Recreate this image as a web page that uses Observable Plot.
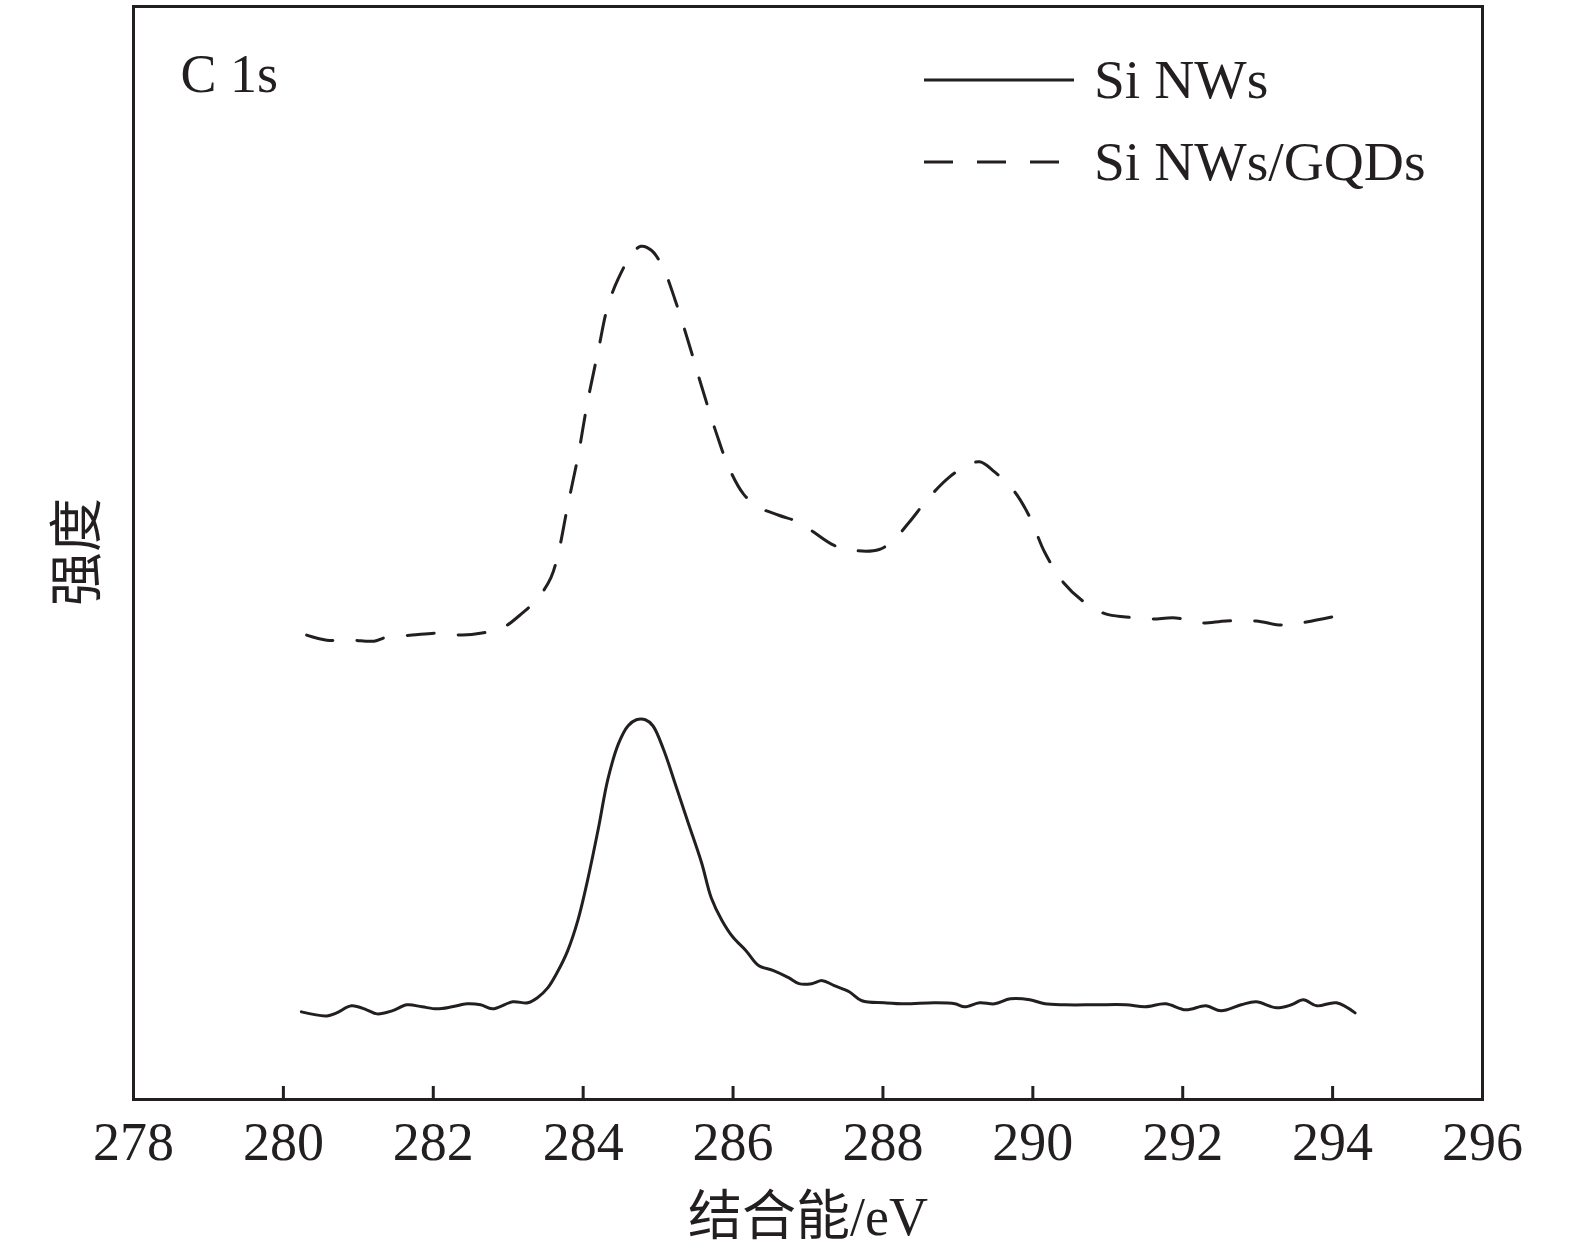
<!DOCTYPE html>
<html>
<head>
<meta charset="utf-8">
<script src="https://cdn.jsdelivr.net/npm/d3@7"></script>
<script src="https://cdn.jsdelivr.net/npm/@observablehq/plot@0.6"></script>
<style>
  html, body { margin: 0; padding: 0; background: #fff; }
  #chart { position: relative; width: 1575px; height: 1252px; }
</style>
</head>
<body>
<div id="chart"></div>
<script>
// Binding energy (eV) and intensity (a.u.)
const siNWsEnergy = [280.24,280.58,280.71,280.91,281.11,281.25,281.45,281.65,281.85,282.05,282.25,282.45,282.63,282.79,283.06,283.26,283.39,283.53,283.66,283.79,283.93,284.06,284.2,284.33,284.47,284.6,284.71,284.83,284.93,285.07,285.23,285.4,285.58,285.71,285.85,286.0,286.17,286.34,286.54,286.74,286.88,287.05,287.19,287.35,287.55,287.72,288.02,288.29,288.69,288.96,289.09,289.29,289.49,289.7,289.96,290.16,290.43,290.84,291.24,291.5,291.77,292.04,292.31,292.51,292.78,292.98,293.25,293.45,293.61,293.79,294.05,294.3];
const siNWsIntensity = [87,83,86,93,89,85,88,94,92,90,92,95,94,90,97,96,101,111,127,147,178,218,268,318,353,371,377,377,371,348,313,275,235,200,178,161,148,133,128,121,115,115,118,113,107,98,96,95,96,95,92,96,95,100,99,95,94,94,94,92,95,89,93,88,94,97,91,94,99,93,96,86];

const gqdEnergy = [280.31,280.58,280.91,281.21,281.38,281.72,282.05,282.39,282.65,282.92,283.19,283.39,283.57,283.67,283.79,283.93,284.06,284.2,284.33,284.47,284.64,284.77,284.91,285.07,285.23,285.4,285.58,285.77,285.94,286.14,286.34,286.61,286.88,287.08,287.35,287.62,287.95,288.15,288.35,288.62,288.89,289.09,289.29,289.49,289.76,289.96,290.16,290.41,290.7,290.97,291.24,291.57,291.91,292.24,292.58,292.98,293.32,293.65,294.12];
const gqdIntensity = [461,456,456,455,459,461,463,461,463,468,483,497,518,543,588,638,693,743,788,815,838,847,843,825,793,753,708,663,628,601,588,580,573,563,550,545,546,556,573,598,618,628,633,623,603,578,543,513,493,482,479,477,478,473,475,475,471,474,481];

const xTicks = [278,280,282,284,286,288,290,292,294,296];
const seriesNames = ["Si NWs", "Si NWs/GQDs"];
const panelLabel = "C 1s";
const xLabel = "结合能/eV";
const yLabel = "强度";

const ink = "#231f20";
const serif = "'Liberation Serif', 'Times New Roman', 'Noto Sans CJK SC', serif";

const solid = siNWsEnergy.map((e, i) => ({e, v: siNWsIntensity[i]}));
const dashed = gqdEnergy.map((e, i) => ({e, v: gqdIntensity[i]}));

const chart = Plot.plot({
  width: 1575,
  height: 1252,
  marginLeft: 133,
  marginRight: 93,
  marginTop: 6,
  marginBottom: 153,
  style: {fontFamily: serif, color: ink, background: "#fff"},
  x: {domain: [278, 296], axis: null},
  y: {domain: [0, 1085], axis: null},
  marks: [
    Plot.line(solid, {x: "e", y: "v", stroke: ink, strokeWidth: 3, curve: "catmull-rom"}),
    Plot.line(dashed, {x: "e", y: "v", stroke: ink, strokeWidth: 3, strokeDasharray: "27,24", curve: "catmull-rom"}),
    Plot.axisX(xTicks, {anchor: "bottom", tickSize: 13, dy: -13, tickFormat: () => "", strokeWidth: 3, stroke: ink, label: null}),
    Plot.axisX(xTicks, {anchor: "bottom", tickSize: 0, tickPadding: 22, fontSize: 54, fontFamily: serif, fill: ink,
      label: xLabel, labelAnchor: "center", labelOffset: 135, labelArrow: "none"}),
    Plot.frame({stroke: ink, strokeWidth: 3}),
    Plot.text([panelLabel], {frameAnchor: "top-left", dx: 47, dy: 85, text: d => d, fontSize: 54, fontFamily: serif, fill: ink, textAnchor: "start", lineAnchor: "bottom"})
  ]
});

document.getElementById("chart").appendChild(chart);

const svg = d3.select(chart);

// Y-axis title
svg.append("text")
  .attr("transform", "translate(78,552) rotate(-90)")
  .attr("text-anchor", "middle")
  .attr("dominant-baseline", "central")
  .attr("font-size", 54)
  .attr("font-family", serif)
  .attr("fill", ink)
  .text(yLabel);

// Legend
const lg = svg.append("g").attr("text-anchor", "start");
const legendRows = [
  {name: seriesNames[0], dash: null, y: 80},
  {name: seriesNames[1], dash: "29,24", y: 162}
];
legendRows.forEach(r => {
  lg.append("line").attr("x1", 924).attr("x2", 1074).attr("y1", r.y).attr("y2", r.y)
    .attr("stroke", ink).attr("stroke-width", 3).attr("stroke-dasharray", r.dash);
  lg.append("text").attr("x", 1094).attr("y", r.y + 18).attr("font-size", 55.5)
    .attr("font-family", serif).attr("fill", ink).attr("text-anchor", "start").text(r.name);
});
</script>
</body>
</html>
